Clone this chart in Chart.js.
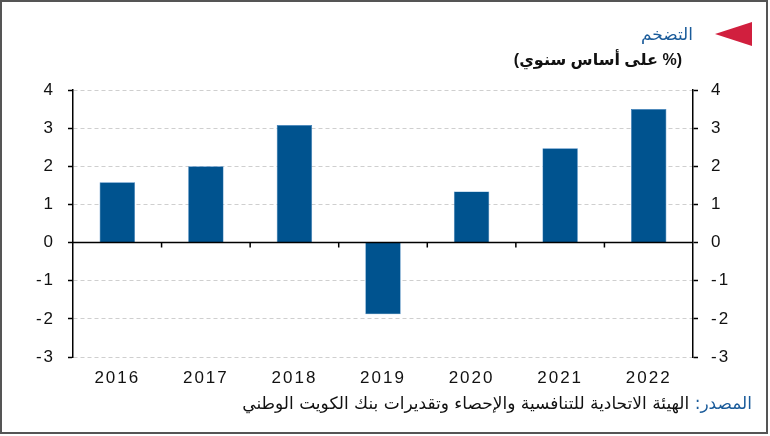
<!DOCTYPE html>
<html>
<head>
<meta charset="utf-8">
<script src="https://cdn.jsdelivr.net/npm/chart.js@4"></script>
<style>
  html, body { margin: 0; padding: 0; background: #fff; }
  #wrap { position: relative; width: 770px; height: 436px; overflow: hidden; }
  #frame { position: absolute; left: 0; top: 0; width: 768px; height: 434px; box-sizing: border-box; border: 2px solid #555; }
  canvas { position: absolute; left: 0; top: 0; }
  .txt { position: absolute; direction: rtl; white-space: nowrap; font-family: "DejaVu Sans", "Liberation Sans", sans-serif; }
  #title { right: 77px; top: 24px; font-size: 17px; color: #1a5b9a; }
  #subtitle { right: 88px; top: 50px; font-size: 16px; font-weight: bold; color: #111; font-family: "Liberation Sans", "DejaVu Sans", sans-serif; }
  #source { right: 18px; top: 393px; font-size: 17px; color: #111; }
  #source span { color: #1a5b9a; }
  #tri { position: absolute; left: 715px; top: 22px; width: 0; height: 0;
         border-top: 12.5px solid transparent; border-bottom: 12.5px solid transparent; border-right: 37px solid #d11f3e; }
</style>
</head>
<body>
<div id="wrap">
  <canvas id="inflation" width="770" height="436"></canvas>
  <div id="tri"></div>
  <div class="txt" id="title">التضخم</div>
  <div class="txt" id="subtitle">(% على أساس سنوي)</div>
  <div class="txt" id="source"><span>المصدر:</span> الهيئة الاتحادية للتنافسية والإحصاء وتقديرات بنك الكويت الوطني</div>
  <div id="frame"></div>
</div>
<script>
const years = ['2016', '2017', '2018', '2019', '2020', '2021', '2022'];
const inflation = [1.58, 2.0, 3.08, -1.88, 1.34, 2.47, 3.5];
const y_ticks = [-3, -2, -1, 0, 1, 2, 3, 4];

// zero line plus small category ticks hanging off it
const zero_line = {
  id: 'zero_line',
  beforeDraw(chart) {
    chart.ctx.letterSpacing = '2px';
  },
  afterDatasetsDraw(chart) {
    const { ctx, chartArea } = chart;
    const x = chart.scales.x;
    const y0 = chart.scales.y.getPixelForValue(0);
    ctx.save();
    ctx.strokeStyle = '#000';
    ctx.lineWidth = 1.5;
    ctx.beginPath();
    ctx.moveTo(chartArea.left, y0);
    ctx.lineTo(chartArea.right, y0);
    for (let i = 1; i < years.length; i++) {
      const px = (x.getPixelForValue(i - 1) + x.getPixelForValue(i)) / 2;
      ctx.moveTo(px, y0);
      ctx.lineTo(px, y0 + 5);
    }
    ctx.stroke();
    ctx.restore();
  }
};

const tick_font = { family: '"Liberation Sans", Arial, sans-serif', size: 17 };

new Chart(document.getElementById('inflation'), {
  type: 'bar',
  data: {
    labels: years,
    datasets: [{
      data: inflation,
      backgroundColor: '#00538f',
      borderColor: '#3b7fbb',
      borderWidth: 0.6,
      barPercentage: 0.4,
      categoryPercentage: 1
    }]
  },
  options: {
    responsive: false,
    animation: false,
    layout: { padding: { top: 90, left: 0, right: 0, bottom: 0 } },
    plugins: { legend: { display: false }, tooltip: { enabled: false } },
    scales: {
      x: {
        grid: { display: false },
        border: { display: false },
        ticks: { color: '#111', font: tick_font, padding: 3, maxRotation: 0 },
        afterFit(scale) { scale.height = 79; }
      },
      y: {
        position: 'left',
        min: -3, max: 4,
        afterBuildTicks(scale) { scale.ticks = y_ticks.map(v => ({ value: v })); },
        grid: {
          color: ctx => (ctx.tick && ctx.tick.value === 0) ? 'rgba(0,0,0,0)' : '#cfcfcf',
          lineWidth: 1,
          tickColor: '#000',
          tickLength: 5,
          tickWidth: 1.5
        },
        border: { display: true, color: '#000', width: 1.5, dash: [4, 3] },
        ticks: { color: '#111', font: tick_font, padding: 13 },
        afterFit(scale) { scale.width = 73; }
      },
      y2: {
        position: 'right',
        min: -3, max: 4,
        afterBuildTicks(scale) { scale.ticks = y_ticks.map(v => ({ value: v })); },
        grid: { drawOnChartArea: false, tickColor: '#000', tickLength: 5, tickWidth: 1.5 },
        border: { display: true, color: '#000', width: 1.5 },
        ticks: { color: '#111', font: tick_font, padding: 13 },
        afterFit(scale) { scale.width = 77; }
      }
    }
  },
  plugins: [zero_line]
});
</script>
</body>
</html>
